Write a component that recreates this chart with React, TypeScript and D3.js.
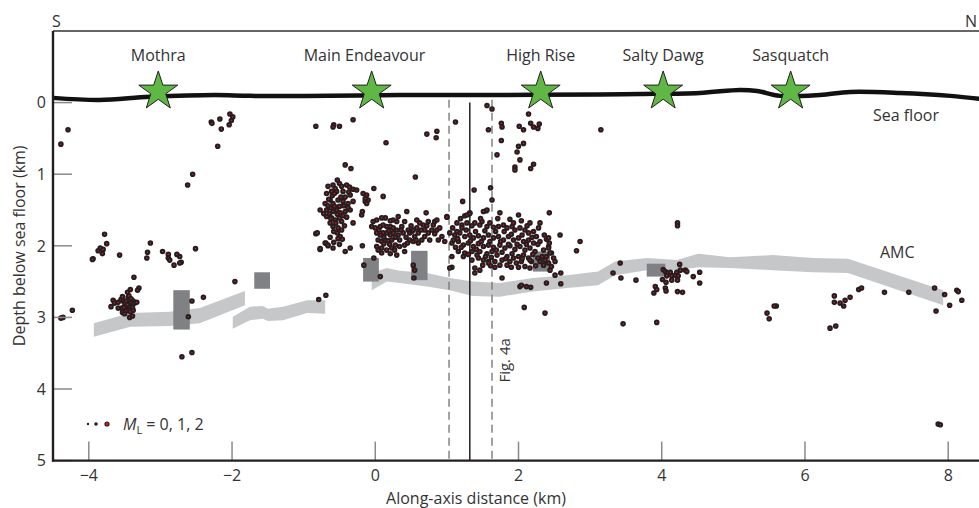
import React from "react";
import * as d3 from "d3";

// along-axis distance (km) / depth below sea floor (km)
const xTicks = [-4, -2, 0, 2, 4, 6, 8];
const yTicks = [0, 1, 2, 3, 4, 5];

const ventNames = ["Mothra", "Main Endeavour", "High Rise", "Salty Dawg", "Sasquatch"];
const ventX = [-3.03, -0.05, 2.31, 4.02, 5.8];
const ventLabelX = [-3.03, -0.15, 2.31, 4.02, 5.8];

const seafloor: [number, number][] = [
  [-4.5, -0.066], [-3.85, -0.038], [-3.15, -0.08], [-2.24, -0.107], [-1.75, -0.094],
  [-0.63, -0.094], [0.34, -0.107], [1.74, -0.107], [3.14, -0.114], [3.7, -0.12],
  [4.53, -0.135], [5.09, -0.177], [5.33, -0.163], [5.65, -0.094], [6.21, -0.107],
  [6.63, -0.149], [7.33, -0.135], [8.03, -0.094], [8.45, -0.05],
];

// [x, top depth, bottom depth]
const amcSegments: [number, number, number][][] = [
  [[-3.93, 3.08, 3.27], [-3.42, 2.94, 3.13], [-2.87, 2.92, 3.12], [-2.45, 2.87, 3.08], [-1.82, 2.63, 2.83]],
  [[-1.99, 2.99, 3.16], [-1.75, 2.85, 3.04], [-1.57, 2.84, 3.02], [-1.5, 2.88, 3.05], [-1.29, 2.85, 3.04], [-0.95, 2.76, 2.94], [-0.7, 2.76, 2.95]],
  [[-0.05, 2.38, 2.62], [0.16, 2.31, 2.5], [0.34, 2.35, 2.52], [0.72, 2.38, 2.57], [1.04, 2.45, 2.62],
   [1.36, 2.5, 2.7], [1.74, 2.52, 2.71], [2.2, 2.45, 2.64], [2.68, 2.41, 2.59], [3.11, 2.36, 2.55],
   [3.35, 2.22, 2.41], [3.79, 2.17, 2.34], [4.21, 2.2, 2.34], [4.51, 2.11, 2.3], [4.95, 2.16, 2.31],
   [5.55, 2.13, 2.34], [6.11, 2.17, 2.37], [6.6, 2.18, 2.38], [7.93, 2.62, 2.83]],
];

// [x0, x1, depth0, depth1]
const boxes: [number, number, number, number][] = [
  [-2.82, -2.59, 2.62, 3.17], [-1.69, -1.47, 2.37, 2.6], [-0.17, 0.05, 2.17, 2.5],
  [0.5, 0.73, 2.07, 2.48], [2.2, 2.44, 2.08, 2.36], [3.79, 4.05, 2.25, 2.43],
];

const dashedX = [1.03, 1.63];
const solidX = 1.32;

const quakes: [number, number][] = [
  // south end
  [-4.29, 0.38], [-4.39, 0.58], [-2.29, 0.27], [-2.28, 0.29], [-2.17, 0.23], [-2.03, 0.16], [-1.99, 0.2],
  [-2.01, 0.25], [-2.15, 0.37], [-2.04, 0.31], [-2.2, 0.61], [-2.55, 1.0], [-2.62, 1.15],
  [-3.78, 1.84], [-3.75, 1.97], [-3.87, 2.07], [-3.84, 2.03], [-3.8, 2.05], [-3.81, 2.11], [-3.94, 2.18],
  [-3.95, 2.19], [-3.57, 2.13], [-3.14, 1.96], [-3.18, 2.09], [-3.19, 2.17], [-2.97, 2.08], [-2.89, 2.12],
  [-2.89, 2.17], [-2.87, 2.2], [-2.77, 2.12], [-2.73, 2.15], [-2.71, 2.23], [-2.73, 2.24], [-2.81, 2.27],
  [-2.51, 2.04], [-3.37, 2.44], [-3.3, 2.59], [-3.32, 2.62], [-3.42, 2.61], [-1.96, 2.5], [-2.4, 2.72],
  [-2.56, 2.77], [-2.61, 2.99], [-2.7, 3.55], [-2.56, 3.49], [-4.23, 2.9], [-4.36, 3.0], [-4.39, 3.01],
  [-3.66, 2.76], [-3.69, 2.85], [-3.64, 2.8], [-3.59, 2.79], [-3.55, 2.75], [-3.53, 2.71], [-3.52, 2.77],
  [-3.5, 2.8], [-3.46, 2.65], [-3.45, 2.72], [-3.44, 2.77], [-3.41, 2.8], [-3.38, 2.77], [-3.36, 2.8],
  [-3.33, 2.79], [-3.47, 2.85], [-3.43, 2.84], [-3.39, 2.86], [-3.44, 2.89], [-3.48, 2.91], [-3.53, 2.93],
  [-3.5, 2.95], [-3.42, 2.92], [-3.38, 2.9], [-3.43, 3.0], [-3.39, 2.98], [-3.54, 2.87], [-3.59, 2.87],
  [-3.44, 2.7], [-3.48, 2.77], [-3.46, 2.82], [-3.41, 2.74], [-3.51, 2.86],
  // Main Endeavour
  [-0.83, 0.33], [-0.58, 0.31], [-0.59, 0.34], [-0.5, 0.33], [-0.31, 0.24], [0.15, 0.56], [0.72, 0.44],
  [0.86, 0.4], [0.85, 0.49], [1.12, 0.27], [-0.42, 0.87], [-0.34, 0.92], [0.56, 1.04], [1.22, 1.38],
  [-0.66, 1.17], [-0.59, 1.15], [-0.53, 1.08], [-0.5, 1.13], [-0.47, 1.17], [-0.4, 1.15], [-0.36, 1.18],
  [-0.31, 1.21], [-0.26, 1.22], [-0.68, 1.27], [-0.61, 1.24], [-0.54, 1.24], [-0.45, 1.24], [-0.35, 1.29],
  [-0.17, 1.27], [-0.12, 1.29], [-0.02, 1.2], [0.11, 1.31], [-0.7, 1.41], [-0.63, 1.36], [-0.59, 1.41],
  [-0.52, 1.36], [-0.45, 1.38], [-0.38, 1.41], [-0.31, 1.38], [-0.14, 1.38], [-0.1, 1.36], [-0.77, 1.5],
  [-0.68, 1.5], [-0.63, 1.47], [-0.59, 1.52], [-0.54, 1.5], [-0.49, 1.54], [-0.42, 1.52], [-0.35, 1.5],
  [-0.19, 1.57], [-0.68, 1.59], [-0.61, 1.61], [-0.56, 1.64], [-0.5, 1.61], [-0.47, 1.66], [-0.31, 1.68],
  [-0.63, 1.68], [-0.59, 1.73], [-0.52, 1.75], [-0.47, 1.78], [-0.53, 1.82], [-0.49, 1.87], [-0.46, 1.91],
  [-0.7, 1.96], [-0.66, 2.0], [-0.59, 2.03], [-0.77, 2.05], [-0.42, 2.08], [-0.35, 2.03], [-0.14, 1.34],
  [-0.12, 1.41], [-0.18, 1.52], [-0.6, 1.3], [-0.57, 1.45], [-0.64, 1.55], [-0.55, 1.68], [-0.44, 1.44],
  [-0.4, 1.6], [-0.58, 1.95], [-0.5, 1.98], [-0.63, 1.88], [-0.56, 1.2], [-0.48, 1.32],
  [-0.65, 1.35], [-0.57, 1.27], [-0.5, 1.45], [-0.42, 1.32], [-0.37, 1.25], [-0.62, 1.62], [-0.53, 1.56],
  [-0.45, 1.58], [-0.58, 1.8], [-0.52, 1.9], [-0.72, 1.55], [-0.66, 1.44], [-0.43, 1.72], [-0.38, 1.47],
  [-0.83, 1.83], [-0.81, 1.82], [-0.77, 2.04], [-0.69, 1.96], [-0.66, 1.99], [-0.79, 2.75], [-0.69, 2.69],
  [-0.03, 1.66], [0.02, 1.64], [-0.05, 1.73], [0.0, 1.75], [0.07, 1.73], [0.11, 1.71], [0.16, 1.73],
  [0.21, 1.73], [0.25, 1.75], [0.02, 1.82], [0.07, 1.85], [0.11, 1.82], [0.16, 1.82], [0.21, 1.85],
  [0.25, 1.82], [0.3, 1.78], [0.04, 1.92], [0.09, 1.94], [0.14, 1.92], [0.18, 1.93], [0.23, 1.92],
  [0.02, 2.01], [0.09, 2.03], [0.16, 2.06], [0.23, 2.03], [0.28, 1.99], [0.34, 1.92], [0.32, 1.85],
  [0.39, 1.82], [0.37, 1.73], [0.3, 1.66], [0.25, 1.64], [0.41, 1.66], [0.46, 1.78], [0.48, 1.82],
  [0.51, 1.8], [0.53, 1.78], [0.58, 1.75], [0.6, 1.82], [0.55, 1.87], [0.48, 1.92], [0.53, 1.94],
  [0.6, 1.96], [0.65, 1.92], [0.69, 1.87], [0.74, 1.82], [0.79, 1.78], [0.81, 1.71], [0.83, 1.66],
  [0.86, 1.64], [0.74, 1.66], [0.67, 1.71], [0.62, 1.68], [0.58, 1.64], [0.69, 1.78], [0.86, 1.78],
  [0.9, 1.75], [1.0, 1.59], [0.88, 1.92], [0.93, 1.87], [0.32, 1.59], [0.21, 1.65], [0.14, 1.61],
  [0.44, 1.52], [0.09, 1.61], [0.34, 2.01], [0.41, 1.99], [-0.02, 2.17], [0.07, 2.43], [-0.16, 2.27],
  [0.53, 2.27], [0.55, 2.34], [0.54, 2.45], [0.41, 2.08], [0.3, 2.13], [0.21, 2.11], [0.09, 2.1],
  [-0.18, 2.0], [0.71, 1.54],
  [0.05, 1.78], [0.12, 1.88], [0.19, 1.79], [0.12, 1.97], [0.2, 1.98], [0.28, 1.88], [0.36, 1.78],
  [0.43, 1.88], [0.5, 1.72], [0.57, 1.92], [0.64, 1.78], [0.72, 1.72], [0.76, 1.92], [0.83, 1.83],
  [0.45, 1.96], [0.04, 2.06], [0.27, 2.06],
  // High Rise
  [1.56, 0.04], [1.63, 0.09], [1.58, 0.38], [1.76, 0.29], [1.77, 0.34], [1.76, 0.53], [1.7, 0.73],
  [2.14, 0.16], [2.01, 0.33], [2.07, 0.38], [2.17, 0.29], [2.21, 0.34], [2.29, 0.3], [2.27, 0.36],
  [2.07, 0.57], [2.0, 0.61], [1.98, 0.69], [2.02, 0.8], [1.95, 0.9], [1.95, 0.94], [2.21, 0.86],
  [2.17, 0.92], [1.38, 1.22], [1.61, 1.19], [1.63, 1.36], [1.32, 1.54], [1.55, 1.51], [2.43, 1.54],
  [3.15, 0.38],
  [1.51, 1.52], [1.56, 1.5], [1.25, 1.58], [1.32, 1.55], [1.74, 1.54], [2.0, 1.57], [1.88, 1.63],
  [2.04, 1.65], [2.16, 1.68], [2.3, 1.68], [2.58, 1.85], [2.81, 2.07], [1.0, 1.6], [1.14, 1.68],
  [1.21, 1.71], [1.28, 1.68], [1.35, 1.72], [1.39, 1.68], [1.46, 1.71], [1.49, 1.66], [1.56, 1.73],
  [1.6, 1.68], [1.65, 1.74], [1.72, 1.73], [1.79, 1.71], [1.84, 1.75], [1.91, 1.73], [1.95, 1.78],
  [2.02, 1.75], [2.09, 1.78], [2.14, 1.82], [2.21, 1.8], [2.25, 1.87], [1.04, 1.82], [1.11, 1.85],
  [1.18, 1.82], [1.25, 1.87], [1.32, 1.85], [1.37, 1.89], [1.44, 1.86], [1.51, 1.89], [1.58, 1.85],
  [1.65, 1.89], [1.72, 1.87], [1.79, 1.92], [1.86, 1.87], [1.93, 1.92], [2.0, 1.89], [2.07, 1.94],
  [2.14, 1.92], [2.21, 1.96], [2.3, 1.94], [2.39, 1.91], [0.97, 1.94], [1.07, 1.96], [1.16, 1.94],
  [1.23, 1.99], [1.3, 1.96], [1.37, 2.01], [1.44, 1.97], [1.51, 2.01], [1.58, 1.99], [1.65, 2.02],
  [1.74, 1.99], [1.81, 2.03], [1.88, 2.0], [1.95, 2.05], [2.02, 2.01], [2.09, 2.06], [2.16, 2.03],
  [2.23, 2.08], [2.35, 2.06], [2.42, 2.01], [2.46, 2.1], [2.39, 2.15], [2.49, 2.17], [1.16, 2.08],
  [1.25, 2.1], [1.35, 2.08], [1.42, 2.13], [1.46, 2.08], [1.56, 2.11], [1.63, 2.08], [1.7, 2.13],
  [1.77, 2.09], [1.84, 2.15], [1.91, 2.11], [2.0, 2.15], [2.07, 2.13], [2.14, 2.17], [1.23, 2.15],
  [1.44, 2.17], [1.51, 2.2], [1.58, 2.22], [1.67, 2.22], [1.77, 2.2], [1.88, 2.22], [1.97, 2.24],
  [2.04, 2.22], [2.18, 2.22], [2.3, 2.22], [2.35, 2.27], [2.42, 2.24], [2.46, 2.29], [2.51, 2.22],
  [1.39, 2.31], [1.67, 2.3], [1.84, 2.27], [2.16, 2.31], [1.07, 2.3], [1.14, 1.8], [1.21, 1.75],
  [1.28, 1.57], [1.09, 1.92], [1.07, 2.15], [1.04, 2.31], [1.39, 2.38], [1.46, 2.34], [1.58, 2.24],
  [1.77, 2.45], [1.74, 2.27], [2.02, 2.57], [2.04, 2.55], [2.11, 2.57], [2.17, 2.58], [2.39, 2.52],
  [2.59, 2.53], [2.59, 2.38], [2.51, 2.41], [2.44, 2.34], [2.42, 2.03], [2.43, 1.96], [2.42, 1.89],
  [2.37, 2.2], [2.86, 1.94], [2.16, 2.2], [2.09, 2.29], [2.08, 2.86], [2.37, 2.94],
  [1.08, 1.75], [1.15, 1.9], [1.2, 2.02], [1.27, 1.78], [1.33, 1.93], [1.4, 1.8], [1.41, 2.05],
  [1.48, 1.94], [1.53, 1.79], [1.54, 2.15], [1.6, 1.94], [1.62, 2.16], [1.68, 1.8], [1.69, 2.06],
  [1.75, 1.94], [1.8, 1.8], [1.82, 2.18], [1.86, 1.98], [1.9, 1.84], [1.93, 2.17], [1.98, 1.98],
  [2.05, 1.85], [2.05, 2.18], [2.11, 1.98], [2.12, 1.72], [2.19, 1.88], [2.2, 2.12], [2.27, 1.98],
  [2.28, 1.75], [2.33, 2.15], [2.36, 1.85], [2.44, 2.1], [1.12, 2.02], [1.19, 1.62], [1.3, 2.12],
  [1.47, 1.62], [1.71, 1.62], [1.93, 1.68], [2.24, 2.28], [1.35, 2.2], [1.5, 2.27], [1.61, 2.28],
  [1.9, 2.3], [2.0, 2.3], [2.27, 2.17],
  // Salty Dawg and north
  [4.22, 1.68], [4.22, 1.72], [3.42, 2.24], [3.32, 2.38], [3.43, 2.45], [3.64, 2.48], [4.02, 2.33],
  [4.05, 2.36], [4.08, 2.38], [4.12, 2.37], [4.07, 2.42], [4.14, 2.42], [4.19, 2.41], [4.21, 2.37],
  [4.25, 2.26], [4.26, 2.34], [4.33, 2.34], [4.35, 2.36], [4.23, 2.42], [4.22, 2.48], [4.14, 2.48],
  [4.01, 2.47], [4.06, 2.51], [4.44, 2.43], [4.53, 2.37], [4.53, 2.52], [3.91, 2.57], [3.93, 2.61],
  [3.89, 2.66], [4.05, 2.59], [4.06, 2.63], [4.22, 2.64], [4.29, 2.65], [3.46, 3.09], [3.93, 3.07],
  [5.6, 2.84], [5.57, 2.84], [5.47, 2.94], [5.5, 3.02], [6.41, 2.7], [6.41, 2.79], [6.49, 2.8],
  [6.54, 2.84], [6.56, 2.76], [6.63, 2.72], [6.75, 2.61], [6.79, 2.59], [6.35, 3.15], [6.43, 3.12],
  [7.11, 2.65], [7.45, 2.65], [7.81, 2.59], [7.95, 2.68], [7.83, 2.91], [8.02, 2.83], [8.12, 2.62],
  [8.14, 2.64], [8.19, 2.76], [7.86, 4.49], [7.89, 4.5],
];

const W = 979;
const H = 508;
const font = "'Open Sans', 'Noto Sans', sans-serif";
const ink = "#333333";

export default function App() {
  const x = d3.scaleLinear().domain([-4.5, 8.43]).range([53, 979]);
  const y = d3.scaleLinear().domain([-1, 5]).range([31, 460.6]);

  const floorLine = d3.line<[number, number]>()
    .x(d => x(d[0])).y(d => y(d[1]))
    .curve(d3.curveCatmullRom);
  const band = d3.area<[number, number, number]>()
    .x(d => x(d[0])).y0(d => y(d[1])).y1(d => y(d[2]));
  const star = d3.symbol(d3.symbolStar, 470)();

  return (
    <svg width={W} height={H} style={{ position: "absolute", left: 0, top: 0 }} fontFamily={font}>
      <defs>
        <clipPath id="plot"><rect x={53} y={31} width={W - 53} height={430} /></clipPath>
      </defs>

      <text x={52} y={27} fontSize={16} fill={ink}>S</text>
      <text x={965} y={27} fontSize={16} fill={ink}>N</text>

      {/* AMC reflector */}
      {amcSegments.map((s, i) => (
        <path key={i} d={band(s) ?? ""} fill="#c6c7c9" />
      ))}
      <text x={880} y={258} fontSize={16} fill={ink}>AMC</text>

      {boxes.map((b, i) => (
        <rect key={i} x={x(b[0])} y={y(b[2])} width={x(b[1]) - x(b[0])} height={y(b[3]) - y(b[2])} fill="#808184" />
      ))}

      {/* cross-section lines */}
      {dashedX.map(v => (
        <line key={v} x1={x(v)} x2={x(v)} y1={y(-0.04)} y2={y(5)} stroke="#7a7a7a" strokeWidth={1.4} strokeDasharray="8,5" />
      ))}
      <line x1={x(solidX)} x2={x(solidX)} y1={y(0.0)} y2={y(5)} stroke="#231f20" strokeWidth={1.5} />
      <text transform={`translate(${x(1.88)},${y(3.6)}) rotate(-90)`} textAnchor="middle" fontSize={15} fill={ink}>Fig. 4a</text>

      {/* earthquakes */}
      <g clipPath="url(#plot)">
        {quakes.map((q, i) => (
          <circle key={i} cx={x(q[0])} cy={y(q[1])} r={1.8} fill="#e0141c" stroke="#231f20" strokeWidth={2} />
        ))}
      </g>

      {/* sea floor */}
      <path d={floorLine(seafloor) ?? ""} fill="none" stroke="#111" strokeWidth={4.5} />
      <text x={873} y={121} fontSize={16} fill={ink}>Sea floor</text>

      {ventX.map((v, i) => (
        <g key={ventNames[i]}>
          <path d={star ?? ""} transform={`translate(${x(v)},${y(-0.156)})`} fill="#5fb846" stroke="#231f20" strokeWidth={1} />
          <text x={x(ventLabelX[i])} y={y(-0.58)} textAnchor="middle" fontSize={16} fill={ink}>{ventNames[i]}</text>
        </g>
      ))}

      {/* frame and axes */}
      <line x1={53} x2={W} y1={31} y2={31} stroke="#333" strokeWidth={1.3} />
      {yTicks.map(t => (
        <g key={t}>
          <line x1={53} x2={72} y1={y(t)} y2={y(t)} stroke="#8a8a8a" strokeWidth={1.5} />
          <text x={46} y={y(t)} dy="0.36em" textAnchor="end" fontSize={16} fill={ink}>{t}</text>
        </g>
      ))}
      {xTicks.map(t => (
        <g key={t}>
          <line x1={x(t)} x2={x(t)} y1={y(5)} y2={y(5) - 19} stroke="#8a8a8a" strokeWidth={1.5} />
          <text x={x(t)} y={481} textAnchor="middle" fontSize={16} fill={ink}>{t < 0 ? `\u2212${-t}` : t}</text>
        </g>
      ))}
      <line x1={53} x2={53} y1={31} y2={y(5) + 1} stroke="#231f20" strokeWidth={2.4} />
      <line x1={52} x2={W} y1={y(5)} y2={y(5)} stroke="#231f20" strokeWidth={2.4} />

      <text transform={`translate(25,${y(2)}) rotate(-90)`} textAnchor="middle" fontSize={16} fill={ink}>Depth below sea floor (km)</text>
      <text x={476} y={504} textAnchor="middle" fontSize={16} fill={ink}>Along-axis distance (km)</text>

      {/* legend */}
      <circle cx={88} cy={424} r={1.2} fill="#231f20" />
      <circle cx={96} cy={424} r={1.8} fill="#231f20" />
      <circle cx={107} cy={424} r={2} fill="#e0141c" stroke="#231f20" strokeWidth={1.2} />
      <text x={123} y={430} fontSize={16} fill={ink}>
        <tspan fontStyle="italic">M</tspan>
        <tspan fontSize={11} dy={4}>L</tspan>
        <tspan dy={-4}> = 0, 1, 2</tspan>
      </text>
    </svg>
  );
}
